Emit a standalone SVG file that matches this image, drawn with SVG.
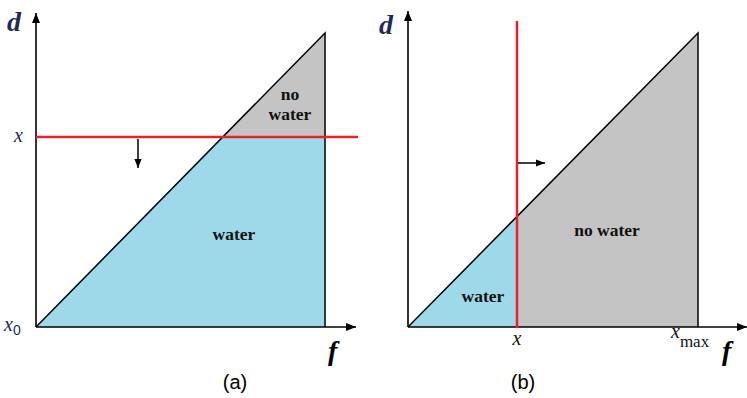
<svg xmlns="http://www.w3.org/2000/svg" width="747" height="398" viewBox="0 0 747 398">
<defs>
<marker id="ah" viewBox="0 0 10 10" refX="10" refY="5" markerWidth="10" markerHeight="10" markerUnits="userSpaceOnUse" orient="auto">
<path d="M0,1 L10,5 L0,9 Z" fill="#000"/>
</marker>
<marker id="ahs" viewBox="0 0 10 10" refX="10" refY="5" markerWidth="9" markerHeight="9" markerUnits="userSpaceOnUse" orient="auto">
<path d="M0,1 L10,5 L0,9 Z" fill="#000"/>
</marker>
</defs>
<style>
.axis{stroke:#000;stroke-width:1.6;fill:none}
.edge{stroke:#000;stroke-width:1.5;fill:none}
.red{stroke:#e8212b;stroke-width:2.5;fill:none}
.water{fill:#9dd9e8}
.dry{fill:#c4c4c4}
.lbl{font-family:'Liberation Serif','Times New Roman','DejaVu Serif',serif;font-weight:bold;font-size:17.5px;fill:#111}
.var{font-family:'Liberation Serif','Times New Roman','DejaVu Serif',serif;font-style:italic;font-size:20px}
.sub{font-family:'Liberation Serif','Times New Roman','DejaVu Serif',serif;font-style:normal;font-size:17px}
.ax{font-family:'Liberation Serif','Times New Roman','DejaVu Serif',serif;font-style:italic;font-weight:bold;font-size:28px}
.cap{font-family:'Liberation Sans',Arial,sans-serif;font-size:20px;fill:#000}
</style>
<g id="panel-a">
<g id="a-regions">
<polygon class="water" points="36,327 222.5,137 325,137 325,327"/>
<polygon class="dry" points="222.5,137 325,33 325,137"/>
</g>
<g id="a-connectors">
<line class="axis" x1="36" y1="327" x2="36" y2="13" marker-end="url(#ah)"/>
<line class="axis" x1="36" y1="327" x2="356" y2="327" marker-end="url(#ah)"/>
<polyline class="edge" points="36,327 325,33 325,327"/>
<line class="red" x1="36" y1="137" x2="358" y2="137"/>
<line class="edge" x1="138" y1="139" x2="138" y2="168" marker-end="url(#ahs)"/>
</g>
<text class="lbl" x="290" y="100" text-anchor="middle">no</text>
<text class="lbl" x="290" y="120" text-anchor="middle">water</text>
<text class="lbl" x="234" y="240" text-anchor="middle">water</text>
<text class="ax" x="7" y="31" fill="#1f2a5a" font-size="26">d</text>
<text class="var" x="14" y="142" fill="#1f2a5a">x</text>
<text class="var" x="4" y="331" fill="#1f2a5a">x<tspan font-style="normal" font-family="Liberation Sans, Arial, sans-serif" font-size="14" dy="4">0</tspan></text>
<text class="ax" x="328" y="360">f</text>
<text class="cap" x="235" y="389" text-anchor="middle">(a)</text>
</g>
<g id="panel-b">
<g id="b-regions">
<polygon class="water" points="408,327 517,216.5 517,327"/>
<polygon class="dry" points="517,216.5 698,33 698,327 517,327"/>
</g>
<g id="b-connectors">
<line class="axis" x1="408" y1="327" x2="408" y2="11" marker-end="url(#ah)"/>
<line class="axis" x1="408" y1="327" x2="747" y2="327" marker-end="url(#ah)"/>
<polyline class="edge" points="408,327 698,33 698,327"/>
<line class="red" x1="517" y1="21" x2="517" y2="328"/>
<line class="edge" x1="518" y1="163" x2="545" y2="163" marker-end="url(#ahs)"/>
</g>
<text class="lbl" x="607" y="236" text-anchor="middle">no water</text>
<text class="lbl" x="483" y="302" text-anchor="middle">water</text>
<text class="ax" x="379" y="34" fill="#1f2a5a" font-size="26">d</text>
<text class="var" x="517" y="345" text-anchor="middle" fill="#111">x</text>
<text class="var" x="671" y="338" fill="#111">x<tspan class="sub" dy="9">max</tspan></text>
<text class="ax" x="722" y="360">f</text>
<text class="cap" x="523" y="389" text-anchor="middle">(b)</text>
</g>
</svg>
